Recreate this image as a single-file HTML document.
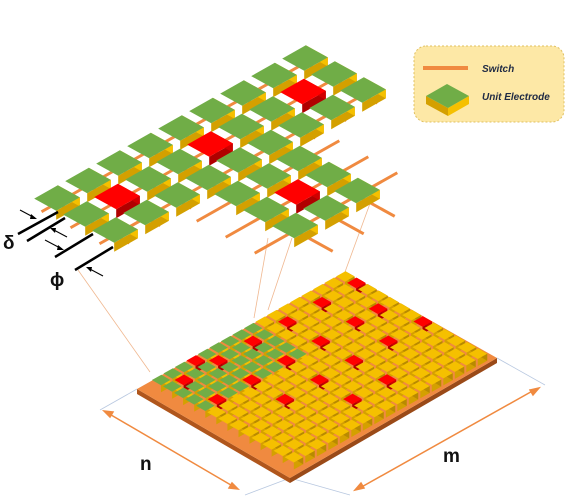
<!DOCTYPE html>
<html><head><meta charset="utf-8"><style>
body{margin:0;background:#fff}
svg{display:block}
text{font-family:"Liberation Sans",sans-serif}
</style></head><body>
<svg id="s" width="576" height="500" viewBox="0 0 576 500">
<g id="guides" stroke="#f0b890" stroke-width="0.8" fill="none">
<line x1="78" y1="270" x2="150" y2="372"/>
<line x1="268" y1="238" x2="254" y2="318"/>
<line x1="292" y1="238" x2="268" y2="310"/>
<line x1="372" y1="198" x2="345" y2="272"/>
</g>
<g stroke="#b8c8e0" stroke-width="0.8">
<line x1="100" y1="410" x2="137" y2="389"/>
<line x1="290" y1="478" x2="245" y2="495"/>
<line x1="290" y1="478" x2="350" y2="495"/>
<line x1="497" y1="358" x2="545" y2="385"/>
</g>
<g id="board"></g>
<g id="exploded"></g>
<g stroke="#f08a40" stroke-width="1.5" fill="#f08a40">
<line x1="106" y1="412" x2="236" y2="488"/>
<polygon points="104,411 113,412 110,417"/>
<polygon points="238,489 229,488 232,483"/>
</g>
<g stroke="#f08a40" stroke-width="1.5" fill="#f08a40">
<line x1="358" y1="489" x2="536" y2="389"/>
<polygon points="355,490 361,483 364,488"/>
<polygon points="539,388 533,395 530,390"/>
</g>
<text x="140" y="470" font-size="19" font-weight="bold" fill="#111">n</text>
<text x="443" y="462" font-size="19" font-weight="bold" fill="#111">m</text>
<g stroke="#000" stroke-width="2.5">
<line x1="18" y1="234" x2="58" y2="212"/>
<line x1="27" y1="241" x2="65" y2="218"/>
<line x1="55" y1="257" x2="93" y2="234"/>
<line x1="75" y1="270" x2="113" y2="247"/>
<g stroke-width="1">
<line x1="20" y1="210" x2="35" y2="218"/>
<line x1="67" y1="237" x2="52" y2="229"/>
<line x1="45" y1="240" x2="62" y2="249"/>
<line x1="103" y1="276" x2="88" y2="268"/>
</g>
<g stroke="none" fill="#000">
<polygon points="37,219 31,214 30,219"/>
<polygon points="50,228 55,233 56,228"/>
<polygon points="64,250 58,245 57,250"/>
<polygon points="86,267 91,272 92,267"/>
</g>
</g>
<text x="3" y="249" font-size="19" font-weight="bold" fill="#111">δ</text>
<text x="50" y="286" font-size="19" font-weight="bold" fill="#111">ϕ</text>
<g>
<rect x="414" y="46" width="150" height="76" rx="12" fill="#fde8a6" stroke="#e0c060" stroke-dasharray="2,2"/>
<line x1="423" y1="68" x2="468" y2="68" stroke="#f08a40" stroke-width="4"/>
<text x="482" y="72" font-size="10" font-weight="bold" font-style="italic" fill="#1f2a44">Switch</text>
<g>
<polygon points="426,96 448,108 448,116 426,104" fill="#d4a000"/>
<polygon points="448,108 469,96 469,104 448,116" fill="#f5c000"/>
<polygon points="426,96 447,84 469,96 448,108" fill="#70ad47"/>
</g>
<text x="482" y="100" font-size="10" font-weight="bold" font-style="italic" fill="#1f2a44">Unit Electrode</text>
</g>
</svg>
<script>
// Board grid data
const boardRows = 13;   // n
const boardCols = 17;   // m
const redCells = [[1,1],[1,4],[1,7],[1,10],[1,13],[1,16],[4,1],[4,4],[4,7],[4,10],[4,13],[7,4],[7,7],[7,10],[7,13],[10,7],[10,10],[0,3],[4,15],[7,16]];
const greenRows = 5, greenCols = 9;
// Exploded view data (lattice coordinates)
const blocks = [[0,0],[3,0],[6,0],[3,3]];
const NS="http://www.w3.org/2000/svg";
function poly(g,pts,fill,name){const p=document.createElementNS(NS,'polygon');p.setAttribute('points',pts.map(q=>q[0].toFixed(1)+','+q[1].toFixed(1)).join(' '));p.setAttribute('fill',fill);


g.appendChild(p);return p;}
function add(a,b){return[a[0]+b[0],a[1]+b[1]]}
function mul(a,k){return[a[0]*k,a[1]*k]}
const colors={y:['#f5c000','#d4a000','#b88a00'],g:['#70ad47','#d4a000','#f5c000'],r:['#ff0000','#b00000','#d00000']};
function cube(g,c,U,V,h,type,name){
  const hu=mul(U,0.5),hv=mul(V,0.5);
  const p0=add(add(c,mul(hu,-1)),mul(hv,-1)),p1=add(add(c,hu),mul(hv,-1)),p2=add(add(c,hu),hv),p3=add(add(c,mul(hu,-1)),hv);
  const d=[0,h];const col=colors[type];
  const gg=document.createElementNS(NS,'g');
  
  
  g.appendChild(gg);
  poly(gg,[p3,p2,add(p2,d),add(p3,d)],type==='g'?'#d4a000':col[1],'cube-left-face');
  poly(gg,[p2,p1,add(p1,d),add(p2,d)],type==='g'?'#f5c000':col[2],'cube-right-face');
  poly(gg,[p0,p1,p2,p3],col[0],'cube-top-face');
}
// Board
(function(){
  const g=document.getElementById('board');
  const L=[137,389],T=[345,272],R=[497,358],B=[290,478],th=5;
  poly(g,[L,B,add(B,[0,th]),add(L,[0,th])],'#b0561c','board-left-edge');
  poly(g,[B,R,add(R,[0,th]),add(B,[0,th])],'#9a4a18','board-right-edge');
  poly(g,[L,T,R,B],'#f08a40','board-top');
  const mu=mul([T[0]-L[0],T[1]-L[1]],0.94/boardCols), nv=mul([B[0]-L[0],B[1]-L[1]],0.94/boardRows);
  const o=add(L,add(mul([T[0]-L[0],T[1]-L[1]],0.04),mul([B[0]-L[0],B[1]-L[1]],0.03)));
  const cells=[];
  for(let i=0;i<boardRows;i++)for(let j=0;j<boardCols;j++)cells.push([i,j]);
  cells.sort((a,b)=>(a[0]*nv[1]+a[1]*mu[1])-(b[0]*nv[1]+b[1]*mu[1]));
  const h=7;
  for(const [i,j] of cells){
    const c=add(o,add(mul(mu,j+0.5),mul(nv,i+0.5)));
    let t='y';
    if(i<greenRows&&j<greenCols)t='g';
    if(redCells.some(r=>r[0]===i&&r[1]===j))t='r';
    cube(g,add(c,[0,-h]),mul(mu,0.82),mul(nv,0.82),h,t,'board-electrode');
  }
})();
// Exploded view
(function(){
  const g=document.getElementById('exploded');
  const O=[57,198],A=[31,-17.5],Bv=[29,16];
  const P=(a,b)=>add(O,add(mul(A,a),mul(Bv,b)));
  const lg=document.createElementNS(NS,'g');
  
  
  g.appendChild(lg);
  const line=(p,q)=>{const l=document.createElementNS(NS,'line');l.setAttribute('x1',p[0]);l.setAttribute('y1',p[1]+5);l.setAttribute('x2',q[0]);l.setAttribute('y2',q[1]+5);l.setAttribute('stroke','#f08a40');l.setAttribute('stroke-width','3');
    
    
    lg.appendChild(l);};
  const cells=[];
  blocks.forEach(([a0,b0],k)=>{
    const ext=k===3?1.3:0.5;
    for(let t=0;t<3;t++){
      line(P(a0-ext,b0+t),P(a0+2+ext,b0+t));
      line(P(a0+t,b0-ext),P(a0+t,b0+2+ext));
    }
    for(let a=0;a<3;a++)for(let b=0;b<3;b++)cells.push([a0+a,b0+b,a===1&&b===1]);
  });
  cells.sort((p,q)=>(P(p[0],p[1])[1])-(P(q[0],q[1])[1]));
  for(const [a,b,red] of cells){
    cube(g,P(a,b),mul(A,0.76),mul(Bv,0.76),9,red?'r':'g','exploded-electrode');
  }
})();
</script>
</body></html>
